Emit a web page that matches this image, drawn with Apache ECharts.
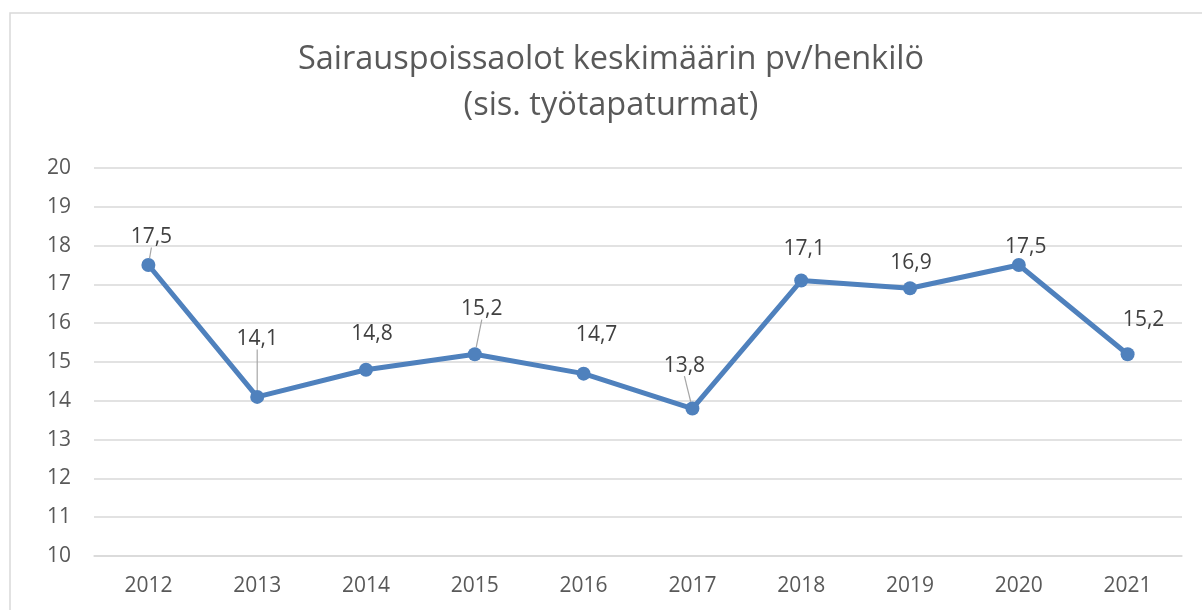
<!DOCTYPE html>
<html>
<head>
<meta charset="utf-8">
<script src="https://cdn.jsdelivr.net/npm/echarts@6/dist/echarts.min.js"></script>
<style>
  html, body { margin: 0; padding: 0; background: #ffffff; }
  #chart { width: 1202px; height: 610px; }
</style>
</head>
<body>
<div id="chart"></div>
<script>
// ---- data ----
const titleLines = ['Sairauspoissaolot keskimäärin pv/henkilö', '(sis. työtapaturmat)'];
const years = ['2012', '2013', '2014', '2015', '2016', '2017', '2018', '2019', '2020', '2021'];
const values = [17.5, 14.1, 14.8, 15.2, 14.7, 13.8, 17.1, 16.9, 17.5, 15.2];
const yTicks = [10, 11, 12, 13, 14, 15, 16, 17, 18, 19, 20];

// ---- label placement (offset of label centre from point centre, px) ----
const labelShift = [[3, -28], [0, -58], [6, -36], [7, -45], [13, -39], [-8, -43], [3, -32], [1, -25], [7, -18], [16, -34]];
const leaderShown = [true, true, false, true, false, true, false, false, false, false];

const chart = echarts.init(document.getElementById('chart'), null, { renderer: 'canvas' });

const fontFam = '"Open Sans", "Noto Sans", sans-serif';

const option = {
  animation: false,
  backgroundColor: '#ffffff',
  graphic: [{
    type: 'rect',
    silent: true,
    z: -10,
    shape: { x: 10, y: 13, width: 1200, height: 640 },
    style: { fill: 'none', stroke: '#d9d9d9', lineWidth: 1.5 }
  }],
  title: {
    text: titleLines.join('\n'),
    left: 611,
    top: 37,
    padding: 0,
    textAlign: 'center',
    textStyle: {
      fontFamily: fontFam,
      fontSize: 32.5,
      fontWeight: 'normal',
      color: '#595959',
      lineHeight: 46
    }
  },
  grid: { left: 94, right: 20, top: 168, bottom: 54, containLabel: false },
  xAxis: {
    type: 'category',
    data: years,
    boundaryGap: true,
    axisLine: { show: true, lineStyle: { color: '#d9d9d9', width: 1.5 } },
    axisTick: { show: false },
    axisLabel: { color: '#595959', fontSize: 21, fontFamily: fontFam, margin: 20 },
    splitLine: { show: false }
  },
  yAxis: {
    type: 'value',
    min: yTicks[0],
    max: yTicks[yTicks.length - 1],
    interval: 1,
    axisLine: { show: false },
    axisTick: { show: false },
    axisLabel: { color: '#595959', fontSize: 21, fontFamily: fontFam, margin: 23 },
    splitLine: { show: true, lineStyle: { color: '#d9d9d9', width: 1.5 } }
  },
  series: [{
    type: 'line',
    data: values.map((v, i) => ({ value: v, labelLine: { show: leaderShown[i] } })),
    symbol: 'circle',
    symbolSize: 14,
    lineStyle: { color: '#4f81bd', width: 5 },
    itemStyle: { color: '#4f81bd' },
    label: {
      show: true,
      position: 'inside',
      color: '#404040',
      fontSize: 21,
      fontFamily: fontFam,
      formatter: p => String(p.value).replace('.', ',')
    },
    labelLine: {
      lineStyle: { color: '#a6a6a6', width: 1.2 }
    },
    labelLayout: function (p) {
      const s = labelShift[p.dataIndex];
      return {
        x: p.rect.x + p.rect.width / 2 + s[0],
        y: p.rect.y + p.rect.height / 2 + s[1],
        align: 'center',
        verticalAlign: 'middle'
      };
    }
  }]
};

chart.setOption(option);
</script>
</body>
</html>
